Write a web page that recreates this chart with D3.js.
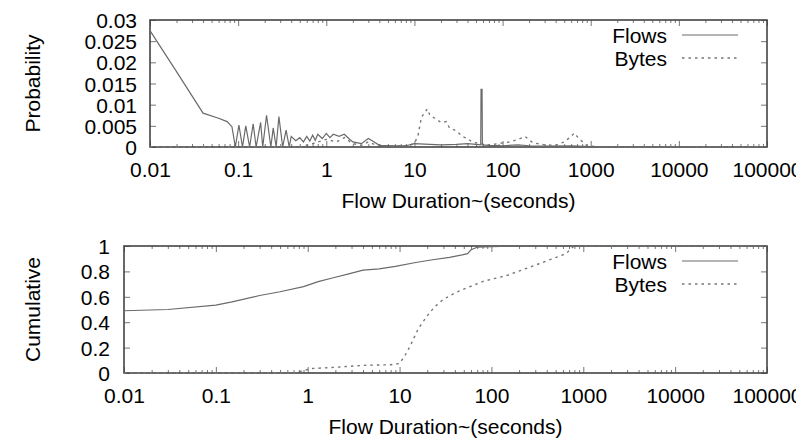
<!DOCTYPE html>
<html>
<head>
<meta charset="utf-8">
<script src="https://cdn.jsdelivr.net/npm/d3@7"></script>
<style>
  html, body { margin: 0; padding: 0; background: #fff; overflow: hidden; }
  svg { display: block; font-family: "Liberation Sans", Arial, sans-serif; }
</style>
</head>
<body>
<svg id="chart"></svg>
<script>
// tick values
const xTicks = [0.01, 0.1, 1, 10, 100, 1000, 10000, 100000];
const probTicks = [0, 0.005, 0.01, 0.015, 0.02, 0.025, 0.03];
const cumTicks = [0, 0.2, 0.4, 0.6, 0.8, 1];
const seriesNames = ['Flows', 'Bytes'];

// [duration (s), probability]
const flowsProb = [
  [0.01, 0.0275], [0.02, 0.0178], [0.04, 0.0080], [0.06, 0.0068], [0.075, 0.0060],
  [0.085, 0.0048], [0.093, 0], [0.102, 0.0052], [0.112, 0], [0.122, 0.0050],
  [0.135, 0], [0.148, 0.0055], [0.16, 0], [0.18, 0.0058], [0.19, 0],
  [0.21, 0.0075], [0.235, 0], [0.25, 0.0045], [0.27, 0], [0.29, 0.0072],
  [0.32, 0], [0.35, 0.0040], [0.38, 0], [0.40, 0.0025], [0.45, 0.0015],
  [0.5, 0.0022], [0.55, 0.0012], [0.6, 0.0025], [0.65, 0.0014], [0.7, 0.0028],
  [0.75, 0.0016], [0.8, 0.0030], [0.9, 0.0020], [1.0, 0.0032], [1.1, 0.0022],
  [1.2, 0.0030], [1.4, 0.0025], [1.6, 0.0030], [1.8, 0.0020], [2.0, 0.0012],
  [2.5, 0.0008], [3.0, 0.0020], [3.5, 0.0012], [4.0, 0.0004], [6, 0.0003],
  [8, 0.0003], [10, 0.0008], [15, 0.0006], [20, 0.0005], [30, 0.0006],
  [40, 0.0008], [50, 0.0006], [56.5, 0.0005], [57, 0.0136], [58.5, 0.0136],
  [59, 0.0005], [70, 0.0004], [100, 0.0003], [150, 0.0005], [200, 0.0003],
  [300, 0.0002], [600, 0.0003], [1000, 0.0001], [2000, 0.0001], [10000, 0],
  [100000, 0]
];
const bytesProb = [
  [0.01, 0], [0.5, 0], [0.7, 0.0008], [1.0, 0.0018], [1.3, 0.0012],
  [1.6, 0.0022], [2.0, 0.0008], [2.5, 0.0004], [3.0, 0.0012], [3.5, 0.0006],
  [5, 0.0002], [8, 0.0003], [10, 0.0008], [11, 0.0028], [12, 0.0070],
  [13, 0.0080], [14, 0.0090], [15, 0.0075], [17, 0.0068], [20, 0.0058],
  [23, 0.0060], [25, 0.0045], [30, 0.0038], [35, 0.0025], [40, 0.0020],
  [45, 0.0012], [55, 0.0008], [70, 0.0005], [90, 0.0008], [120, 0.0012],
  [150, 0.0018], [180, 0.0025], [220, 0.0010], [300, 0.0005], [400, 0.0004],
  [500, 0.0012], [600, 0.0025], [650, 0.0033], [750, 0.0018], [900, 0.0004],
  [1200, 0], [100000, 0]
];
// [duration (s), cumulative fraction]
const flowsCum = [
  [0.01, 0.49], [0.03, 0.50], [0.1, 0.535], [0.15, 0.56], [0.3, 0.61],
  [0.5, 0.64], [0.9, 0.68], [1.3, 0.72], [1.9, 0.75], [2.8, 0.78],
  [4, 0.81], [6, 0.82], [9, 0.84], [15, 0.87], [22, 0.89], [35, 0.91],
  [48, 0.93], [55, 0.94], [60, 0.97], [70, 0.99], [100, 0.995], [200, 1.0],
  [100000, 1.0]
];
const bytesCum = [
  [0.01, 0], [0.7, 0], [0.8, 0.01], [1.1, 0.035], [2, 0.045], [4, 0.06],
  [8, 0.065], [10, 0.075], [11.5, 0.14], [13, 0.21], [16, 0.35], [20, 0.45],
  [24, 0.52], [30, 0.58], [40, 0.63], [50, 0.66], [80, 0.72], [150, 0.77],
  [330, 0.86], [650, 0.94], [780, 0.995], [1000, 1.0], [100000, 1.0]
];

const W = 796, H = 445, FS = 21;
const $svg = d3.select('#chart').attr('width', W).attr('height', H);

// log minor ticks 2..9 per decade
const minorTicks = [];
xTicks.slice(0, -1).forEach((d) => {
  for (let k = 2; k < 10; k++) minorTicks.push(d * k);
});

const flowsColor = '#6a6a6a', bytesColor = '#777',
  dashBytes = '2.5,4';

function panel(opts) {
  const x = d3.scaleLog().domain([0.01, 100000]).range([opts.left, opts.right]),
    y = d3.scaleLinear().domain(opts.yDomain).range([opts.bottom, opts.top]);
  const g = $svg.append('g');

  // minor ticks, bottom and top
  g.append('g').attr('transform', 'translate(0,' + opts.bottom + ')')
    .call(d3.axisBottom(x).tickValues(minorTicks).tickSize(-3).tickFormat(''));
  g.append('g').attr('transform', 'translate(0,' + opts.top + ')')
    .call(d3.axisTop(x).tickValues(minorTicks).tickSize(-3).tickFormat(''));

  // major ticks
  g.append('g').attr('transform', 'translate(0,' + opts.bottom + ')')
    .call(d3.axisBottom(x).tickValues(xTicks).tickSize(-6).tickPadding(15)
      .tickFormat((d) => String(d)));
  g.append('g').attr('transform', 'translate(0,' + opts.top + ')')
    .call(d3.axisTop(x).tickValues(xTicks).tickSize(-6).tickFormat(''));
  const yl = g.append('g').attr('transform', 'translate(' + opts.left + ',0)')
    .call(d3.axisLeft(y).tickValues(opts.yTicks).tickSize(-6).tickPadding(opts.yPad)
      .tickFormat((d) => String(+d.toFixed(3))));
  g.append('g').attr('transform', 'translate(' + opts.right + ',0)')
    .call(d3.axisRight(y).tickValues(opts.yTicks).tickSize(-6).tickFormat(''));

  g.selectAll('.domain').remove();
  g.selectAll('.tick line').attr('stroke', '#777').attr('stroke-width', 1);
  g.selectAll('.tick text').attr('font-size', FS).attr('font-family', null).attr('fill', '#000');
  yl.selectAll('.tick text').attr('dy', '0.36em');

  // frame
  g.append('rect')
    .attr('x', opts.left).attr('y', opts.top)
    .attr('width', opts.right - opts.left).attr('height', opts.bottom - opts.top)
    .attr('fill', 'none').attr('stroke', '#444').attr('stroke-width', 1.6);

  const line = d3.line().x((d) => x(d[0])).y((d) => y(d[1]));
  g.append('path').datum(opts.bytes)
    .attr('d', line).attr('fill', 'none').attr('stroke', bytesColor)
    .attr('stroke-width', 1.4).attr('stroke-dasharray', dashBytes);
  g.append('path').datum(opts.flows)
    .attr('d', line).attr('fill', 'none').attr('stroke', flowsColor)
    .attr('stroke-width', 1.2);

  // axis titles
  g.append('text')
    .text(opts.yTitle)
    .attr('font-size', FS).attr('fill', '#000')
    .attr('text-anchor', 'middle')
    .attr('transform', 'translate(40,' + (opts.top + opts.bottom) / 2 + ') rotate(-90)');
  g.append('text')
    .text('Flow Duration~(seconds)')
    .attr('font-size', FS).attr('fill', '#000')
    .attr('text-anchor', 'middle')
    .attr('x', (opts.left + opts.right) / 2)
    .attr('y', opts.bottom + 61);

  // legend
  const $legend = g.append('g')
    .attr('transform', 'translate(0,' + (opts.top + 23) + ')');
  seriesNames.forEach((name, i) => {
    $legend.append('text')
      .text(name)
      .attr('font-size', FS).attr('fill', '#000')
      .attr('text-anchor', 'end')
      .attr('x', 667).attr('y', i * 23);
    $legend.append('line')
      .attr('x1', 682).attr('x2', 738)
      .attr('y1', i * 23 - 8).attr('y2', i * 23 - 8)
      .attr('stroke', i == 0 ? flowsColor : bytesColor)
      .attr('stroke-width', i == 0 ? 1.2 : 1.4)
      .attr('stroke-dasharray', i == 0 ? null : dashBytes);
  });
}

panel({
  left: 150, right: 767, top: 20, bottom: 147,
  yDomain: [0, 0.03], yTicks: probTicks, yPad: 13,
  yTitle: 'Probability', flows: flowsProb, bytes: bytesProb
});
panel({
  left: 124, right: 767, top: 246, bottom: 373,
  yDomain: [0, 1], yTicks: cumTicks, yPad: 14,
  yTitle: 'Cumulative', flows: flowsCum, bytes: bytesCum
});
</script>
</body>
</html>
